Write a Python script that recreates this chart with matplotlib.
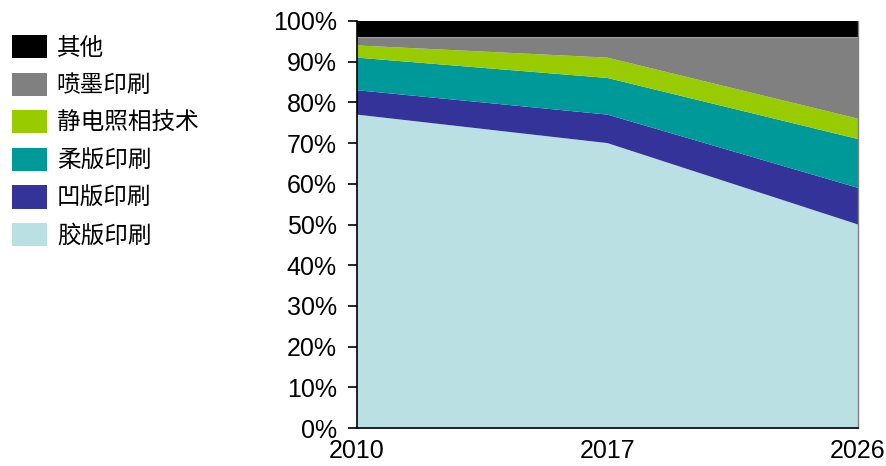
import numpy as np
import matplotlib.pyplot as plt
from matplotlib.patches import Patch

plt.rcParams['font.family'] = ['Liberation Sans', 'Noto Sans CJK SC', 'DejaVu Sans']

# data (percent share)
years = ['2010', '2017', '2026']
labels = ['胶版印刷', '凹版印刷', '柔版印刷', '静电照相技术', '喷墨印刷', '其他']
offset = [77, 70, 50]
gravure = [6, 7, 9]
flexo = [8, 9, 12]
electro = [3, 5, 5]
inkjet = [2, 5, 20]
other = [4, 4, 4]
colors = ['#BBE0E3', '#333399', '#009999', '#99CC00', '#808080', '#000000']

fig = plt.figure(figsize=(8.87, 4.66), dpi=100)
ax = fig.add_axes([357 / 887, 38 / 466, 501 / 887, 407 / 466])

x = np.arange(len(years))
ax.stackplot(x, offset, gravure, flexo, electro, inkjet, other,
             colors=colors, linewidth=0)

ax.set_xlim(0, 2)
ax.set_ylim(0, 100)
ax.set_xticks(x)
ax.set_xticklabels(years, fontsize=18)
ax.set_yticks(np.arange(0, 101, 10))
ax.set_yticklabels([f'{v}%' for v in range(0, 101, 10)], fontsize=18)
ax.tick_params(axis='x', length=0, pad=8)
ax.tick_params(axis='y', length=6.5, width=1.2, direction='out', pad=8)
ax.spines['top'].set_visible(False)
ax.spines['right'].set_color('#808080')
ax.spines['right'].set_linewidth(1)
ax.spines['left'].set_linewidth(1.2)
ax.spines['bottom'].set_linewidth(1.2)

handles = [Patch(facecolor=c, edgecolor='none') for c in colors]
fig.legend(handles[::-1], labels[::-1], loc='upper left',
           bbox_to_anchor=(0.0135, 0.925), frameon=False, fontsize=17,
           handlelength=1.48, handleheight=1.14, handletextpad=0.42,
           labelspacing=0.55, borderaxespad=0, borderpad=0)

fig.savefig('out.png', dpi=100)
